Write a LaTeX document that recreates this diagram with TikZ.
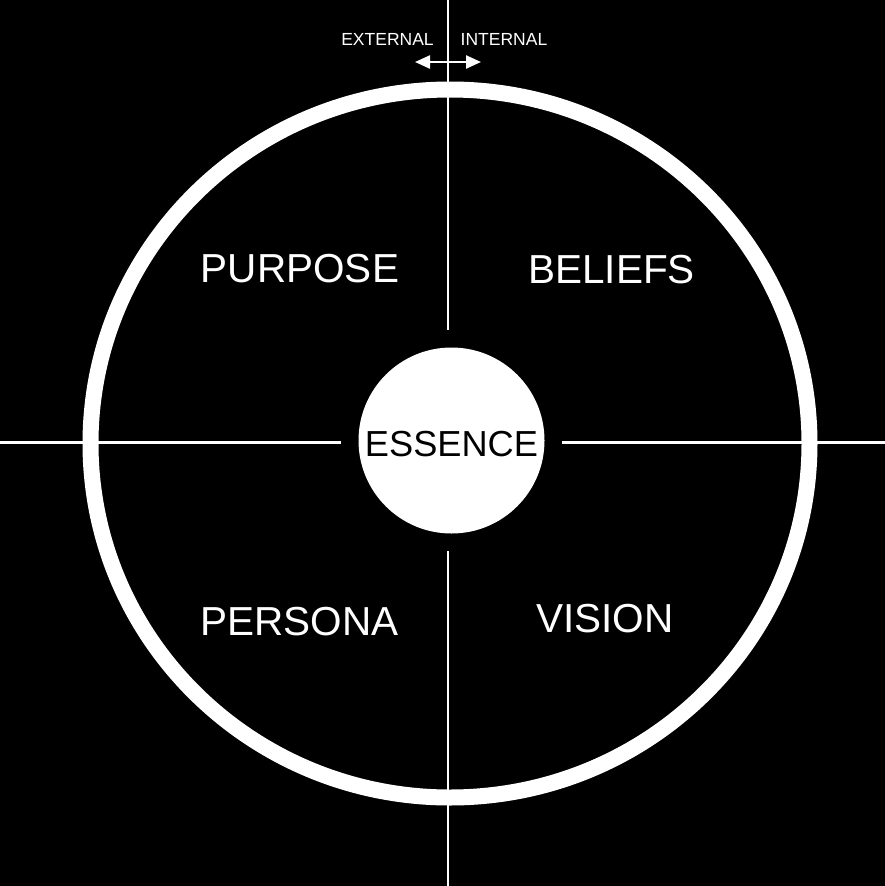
\documentclass[tikz,border=0pt]{standalone}
\usepackage{fontspec}
\setmainfont{Liberation Sans}
\usepackage{xcolor}
\usetikzlibrary{
    arrows.meta,
    positioning,
    calc
}
\tikzset{
  quad/.style    = {text=white, font=\fontsize{40.5}{40.5}\selectfont,
                    text height=29pt, text depth=0pt, inner sep=0pt},
  side/.style    = {text=white, font=\fontsize{17.5}{17.5}\selectfont,
                    text height=12.5pt, text depth=0pt, inner sep=0pt},
  core/.style    = {circle, fill=white, minimum size=186pt, inner sep=0pt,
                    text=black, font=\fontsize{36.2}{36.2}\selectfont,
                    text height=31pt, text depth=0pt},
  axis/.style    = {white, line width=2.4pt, shorten >=17pt},
  dbl/.style     = {{Triangle[length=15pt,width=13pt]}-{Triangle[length=15pt,width=13pt]},
                    white, line width=2.4pt}
}
\definecolor{Ink}{RGB}{0,0,0}

\begin{document}
\begin{tikzpicture}[x=1pt,y=-1pt]
\fill[Ink] (0,0) rectangle (885,886);
\useasboundingbox (0,0) rectangle (885,886);
% outer ring
\draw[white, line width=16pt] (450,443.5) ellipse [x radius=359.5, y radius=354];
% centre
\node[core] (essence) at (451.5,440.5) {ESSENCE};
% axes
\coordinate (top) at (448,0);
\coordinate (bot) at (448,886);
\coordinate (lft) at (0,442.5);
\coordinate (rgt) at (885,442.5);
\draw[axis] (top) -- (top |- essence.north);
\draw[axis] (bot) -- (bot |- essence.south);
\draw[axis] (lft) -- (essence.west |- lft);
\draw[axis] (rgt) -- (essence.east |- rgt);
% quadrants
\node[quad] (purpose) at (300,267.5) {PURPOSE};
\node[quad] (beliefs) at (611.5,269) {BELIEFS};
\node[quad] (persona) at (299.5,621) {PERSONA};
\node[quad] (vision)  at (605,617.5) {VISION};
% external / internal
\node[side] (ext) at (387.5,39) {EXTERNAL};
\node[side] (int) at (504,39) {INTERNAL};
\coordinate (extend) at (415,62);
\coordinate (intend) at (481,62);
\draw[dbl] (extend) -- (intend);
\end{tikzpicture}
\end{document}
